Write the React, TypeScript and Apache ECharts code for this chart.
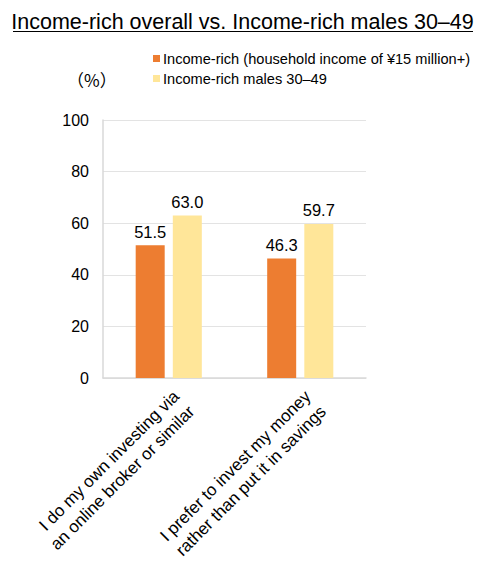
import React, { useEffect, useRef } from "react";
import * as echarts from "echarts";

const categories = [
  "I do my own investing via\nan online broker or similar",
  "I prefer to invest my money\nrather than put it in savings",
];
const seriesNames = [
  "Income-rich (household income of ¥15 million+)",
  "Income-rich males 30–49",
];
const incomeRich = [51.5, 46.3];
const incomeRichMales = [63.0, 59.7];
const titleText = "Income-rich overall vs. Income-rich males 30–49";

const FONT = "Liberation Sans, Arial, sans-serif";

export default function App() {
  const ref = useRef<HTMLDivElement>(null);
  useEffect(() => {
    document.body.style.margin = "0";
    if (!ref.current) return;
    const chart = echarts.init(ref.current, null, { renderer: "svg" });
    const valueLabel = {
      show: true,
      position: "top",
      distance: 5,
      formatter: (p: any) => Number(p.value).toFixed(1),
      fontFamily: FONT,
      fontSize: 16.5,
      color: "#000",
    };
    chart.setOption({
      animation: false,
      textStyle: { fontFamily: FONT },
      title: {
        text: titleText,
        left: "center",
        top: 6,
        textStyle: { fontFamily: FONT, fontSize: 21.5, fontWeight: "normal", color: "#000" },
      },
      graphic: [
        { type: "line", shape: { x1: 13, y1: 31.5, x2: 473, y2: 31.5 }, style: { stroke: "#000", lineWidth: 1.2 } },
        {
          type: "text",
          left: 67,
          top: 71,
          style: { text: "（%）", fontFamily: "Noto Sans CJK JP", fontSize: 17, fill: "#000" },
        },
      ],
      legend: {
        orient: "vertical",
        left: 153,
        top: 51,
        padding: 0,
        itemWidth: 7,
        itemHeight: 7,
        itemGap: 5,
        icon: "rect",
        textStyle: { fontFamily: FONT, fontSize: 14.6, color: "#000", padding: [0, 0, 0, -2] },
        data: seriesNames,
      },
      grid: {
        left: 103,
        right: 119,
        top: 120,
        bottom: 183,
        containLabel: false,
        outerBoundsMode: "none",
      },
      xAxis: {
        type: "category",
        data: categories,
        axisLine: { lineStyle: { color: "#d9d9d9", width: 1.5 } },
        axisTick: { show: false },
        splitLine: { show: false },
        axisLabel: {
          rotate: 45,
          interval: 0,
          fontFamily: FONT,
          fontSize: 17,
          color: "#000",
          margin: 8,
          lineHeight: 21.5,
          verticalAlign: "top",
        },
      },
      yAxis: {
        type: "value",
        min: 0,
        max: 100,
        interval: 20,
        axisLine: { show: true, lineStyle: { color: "#d9d9d9", width: 1.5 } },
        axisTick: { show: false },
        splitLine: { lineStyle: { color: "#e3e3e3", width: 1 } },
        axisLabel: { fontFamily: FONT, fontSize: 16, color: "#000", margin: 14 },
      },
      series: [
        {
          name: seriesNames[0],
          type: "bar",
          data: incomeRich,
          barWidth: 29,
          barGap: "28%",
          itemStyle: { color: "#ED7D31" },
          label: valueLabel,
        },
        {
          name: seriesNames[1],
          type: "bar",
          data: incomeRichMales,
          barWidth: 29,
          barGap: "28%",
          itemStyle: { color: "#FFE699" },
          label: valueLabel,
        },
      ],
    });
    return () => chart.dispose();
  }, []);
  return <div ref={ref} style={{ width: 485, height: 561 }} />;
}
